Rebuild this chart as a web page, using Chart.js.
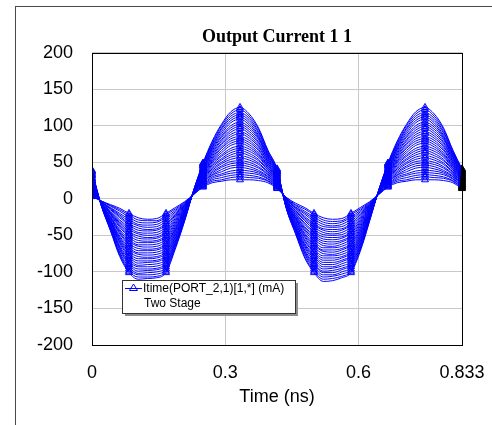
<!DOCTYPE html>
<html><head><meta charset="utf-8">
<script src="https://cdn.jsdelivr.net/npm/chart.js@4"></script>
<style>
html,body{margin:0;padding:0;background:#fff;}
#wrap{position:relative;width:492px;height:425px;overflow:hidden;}
#frame{position:absolute;left:15px;top:6px;width:477px;height:419px;border-left:1px solid #4a4a4a;border-top:1px solid #4a4a4a;box-sizing:border-box;}
canvas{position:absolute;left:0;top:0;}
</style></head><body>
<div id="wrap"><div id="frame"></div><canvas id="c" width="492" height="425"></canvas></div>
<script>
// time samples (ns)
const timeNs = [0,0.0208,0.0417,0.0625,0.0833,0.1041,0.125,0.1458,0.1666,0.1874,0.2083,0.2291,0.2499,0.2707,0.2916,0.3124,0.3332,0.354,0.3749,0.3957,0.4165,0.4373,0.4582,0.479,0.4998,0.5206,0.5415,0.5623,0.5831,0.6039,0.6248,0.6456,0.6664,0.6872,0.7081,0.7289,0.7497,0.7705,0.7914,0.8122,0.833];

// swept output current curves (mA), smallest to largest
const c00 = [3,-3,-8,-13,-20,-26,-28,-27,-20,-12,-4, 6,16,22,24,26,26,26,25,22,14, 2,-6,-12,-20,-26,-28,-27,-20,-12,-4, 6,16,22,24,26,26,26,25,22,14];
const h00 = [4,-3,-9,-15,-22,-29,-30,-30,-22,-14,-5, 6,17,24,26,29,30,29,28,24,15, 2,-8,-14,-22,-29,-31,-30,-22,-14,-5, 6,17,24,26,29,30,29,28,24,15];
const c01 = [5,-3,-10,-17,-25,-32,-33,-32,-25,-16,-6, 6,18,26,29,32,33,32,30,25,16, 1,-9,-17,-25,-32,-34,-32,-25,-16,-6, 6,18,26,29,32,33,32,30,25,16];
const h01 = [7,-4,-12,-20,-28,-35,-36,-35,-28,-18,-7, 7,19,28,32,35,36,35,33,27,17, 1,-11,-19,-28,-35,-37,-35,-28,-18,-7, 7,19,28,32,35,36,35,33,27,17];
const c02 = [8,-4,-13,-22,-31,-37,-39,-38,-31,-20,-8, 7,20,30,34,38,39,38,35,28,18, 0,-12,-21,-31,-38,-39,-38,-31,-20,-8, 7,20,30,34,38,39,38,35,28,18];
const h02 = [9,-4,-14,-24,-34,-40,-42,-41,-34,-22,-9, 7,22,32,37,42,43,41,37,30,19, 0,-13,-24,-34,-41,-42,-41,-34,-22,-9, 7,22,32,37,42,43,41,37,30,19];
const c03 = [10,-4,-15,-26,-36,-43,-44,-43,-36,-23,-9, 7,23,33,40,45,46,44,39,31,19, -1,-14,-26,-36,-43,-45,-43,-36,-24,-9, 7,23,33,40,45,46,44,39,31,19];
const h03 = [12,-5,-17,-29,-39,-46,-47,-46,-39,-25,-10, 8,24,35,43,48,49,47,42,33,20, -2,-16,-28,-39,-46,-48,-46,-39,-26,-10, 8,24,35,43,48,49,47,42,33,20];
const c04 = [13,-5,-18,-31,-42,-48,-50,-49,-42,-27,-11, 8,25,37,45,51,52,50,44,34,21, -2,-17,-30,-42,-49,-50,-49,-42,-28,-11, 8,25,37,45,51,52,50,44,34,21];
const h04 = [14,-5,-19,-33,-45,-51,-53,-52,-45,-29,-12, 8,26,39,48,54,56,53,47,36,22, -3,-19,-33,-45,-52,-53,-52,-45,-30,-12, 8,26,39,48,54,56,53,47,36,22];
const c05 = [15,-5,-20,-35,-47,-54,-55,-54,-47,-31,-13, 8,27,41,50,57,59,56,49,37,23, -3,-20,-35,-47,-55,-56,-54,-47,-32,-13, 8,27,41,50,57,59,56,49,37,23];
const h05 = [16,-5,-21,-37,-50,-57,-58,-57,-50,-33,-14, 8,28,43,53,60,63,59,52,39,24, -4,-22,-38,-50,-58,-59,-57,-50,-34,-14, 8,28,43,53,60,63,59,52,39,24];
const c06 = [17,-5,-22,-39,-52,-60,-60,-59,-52,-35,-15, 8,29,45,55,63,66,62,54,40,25, -4,-23,-40,-52,-61,-62,-59,-52,-36,-15, 8,29,45,55,63,66,62,54,40,25];
const h06 = [19,-6,-24,-42,-55,-63,-63,-62,-55,-37,-16, 9,30,47,58,66,69,65,57,42,26, -5,-25,-42,-55,-64,-65,-62,-55,-38,-16, 9,30,47,58,66,69,65,57,42,26];
const c07 = [20,-6,-25,-44,-58,-65,-66,-65,-58,-39,-17, 9,31,49,60,69,72,68,59,43,27, -5,-26,-44,-58,-67,-67,-65,-58,-40,-17, 9,31,49,60,69,72,68,59,43,27];
const h07 = [21,-6,-26,-46,-61,-68,-69,-68,-61,-41,-18, 9,33,51,63,73,76,71,61,45,28, -6,-27,-47,-61,-70,-70,-68,-61,-42,-18, 9,33,51,63,73,76,71,61,45,28];
const c08 = [22,-6,-27,-48,-63,-71,-71,-70,-63,-42,-18, 9,34,52,66,76,79,74,63,46,28, -6,-28,-49,-63,-72,-73,-70,-63,-44,-18, 9,34,52,66,76,79,74,63,46,28];
const h08 = [24,-7,-29,-51,-66,-74,-74,-73,-66,-44,-19, 10,35,54,69,79,82,77,66,48,29, -7,-30,-51,-66,-75,-76,-73,-66,-46,-19, 10,35,54,69,79,82,77,66,48,29];
const c09 = [25,-7,-30,-53,-69,-76,-77,-76,-69,-46,-20, 10,36,56,71,82,85,80,68,49,30, -7,-31,-53,-69,-78,-78,-76,-69,-48,-20, 10,36,56,71,82,85,80,68,49,30];
const h09 = [26,-7,-31,-55,-72,-79,-80,-79,-72,-48,-21, 10,37,58,74,85,89,83,71,51,31, -8,-33,-56,-72,-81,-81,-79,-72,-50,-21, 10,37,58,74,85,89,83,71,51,31];
const c10 = [27,-7,-32,-57,-74,-82,-82,-81,-74,-50,-22, 10,38,60,76,88,92,86,73,52,32, -8,-34,-58,-74,-84,-84,-81,-74,-52,-22, 10,38,60,76,88,92,86,73,52,32];
const h10 = [28,-7,-33,-59,-77,-85,-85,-84,-77,-52,-23, 10,39,62,79,91,96,89,76,54,33, -9,-36,-61,-77,-87,-87,-84,-77,-54,-23, 10,39,62,79,91,96,89,76,54,33];
const c11 = [29,-7,-34,-61,-79,-88,-87,-86,-79,-54,-24, 10,40,64,81,94,99,92,78,55,34, -9,-37,-63,-79,-90,-90,-86,-79,-56,-24, 10,40,64,81,94,99,92,78,55,34];
const h11 = [31,-8,-36,-64,-82,-91,-90,-89,-82,-56,-25, 11,41,66,84,97,102,95,81,57,35, -10,-39,-65,-82,-93,-93,-89,-82,-58,-25, 11,41,66,84,97,102,95,81,57,35];
const c12 = [32,-8,-37,-66,-85,-93,-93,-92,-85,-58,-26, 11,42,68,86,100,105,98,83,58,36, -10,-40,-67,-85,-96,-95,-92,-85,-60,-26, 11,42,68,86,100,105,98,83,58,36];
const h12 = [33,-8,-38,-68,-88,-96,-96,-95,-88,-60,-27, 11,44,70,89,104,109,101,85,60,37, -11,-41,-70,-88,-99,-98,-95,-88,-62,-27, 11,44,70,89,104,109,101,85,60,37];
const c13 = [34,-8,-39,-70,-90,-99,-98,-97,-90,-61,-27, 11,45,71,92,107,112,104,87,61,37, -11,-42,-72,-90,-101,-101,-97,-90,-64,-27, 11,45,71,92,107,112,104,87,61,37];
const h13 = [36,-9,-41,-73,-93,-102,-101,-100,-93,-63,-28, 12,46,73,95,110,115,107,90,63,38, -12,-44,-74,-93,-104,-104,-100,-93,-66,-28, 12,46,73,95,110,115,107,90,63,38];
const c14 = [37,-9,-42,-75,-96,-104,-104,-103,-96,-65,-29, 12,47,75,97,113,118,110,92,64,39, -12,-45,-76,-96,-107,-106,-103,-96,-68,-29, 12,47,75,97,113,118,110,92,64,39];
const h14 = [38,-9,-43,-77,-99,-107,-107,-106,-99,-67,-30, 12,48,77,100,116,122,113,95,66,40, -13,-47,-79,-99,-110,-109,-106,-99,-70,-30, 12,48,77,100,116,122,113,95,66,40];
const c15 = [39,-9,-44,-79,-101,-110,-109,-108,-101,-69,-31, 12,49,79,102,119,125,116,97,67,41, -13,-48,-81,-101,-113,-112,-108,-101,-72,-31, 12,49,79,102,119,125,116,97,67,41];

const xTicks = [0, 0.3, 0.6, 0.833];
const xTickLabels = ['0', '0.3', '0.6', '0.833'];
const yMin = -200, yMax = 200, yStep = 50;
const chartTitle = 'Output Current 1 1';
const xTitle = 'Time (ns)';
const legendLabel = 'Itime(PORT_2,1)[1,*] (mA)';
const legendSub = 'Two Stage';

const curves = [c00,h00,c01,h01,c02,h02,c03,h03,c04,h04,c05,h05,c06,h06,c07,h07,c08,h08,c09,h09,c10,h10,c11,h11,c12,h12,c13,h13,c14,h14,c15];
const BLUE = '#0000ff';
const SANS = '"Liberation Sans", Arial, sans-serif';

const framePlugin = {
  id: 'plotFrame',
  afterDatasetsDraw(chart) {
    const {ctx, chartArea: a} = chart;
    ctx.save();
    ctx.strokeStyle = '#000';
    ctx.lineWidth = 1;
    ctx.strokeRect(Math.round(a.left) + 0.5, Math.round(a.top) + 0.5,
      Math.round(a.right - a.left), Math.round(a.bottom - a.top));
    ctx.restore();
  }
};

const boxLegend = {
  id: 'boxLegend',
  afterDraw(chart) {
    const ctx = chart.ctx;
    const x = 122, y = 280, w = 173, h = 33;
    ctx.save();
    ctx.fillStyle = '#8c8c8c';
    ctx.fillRect(x + 3, y + 3, w, h);
    ctx.fillStyle = '#fff';
    ctx.fillRect(x, y, w, h);
    ctx.strokeStyle = '#333';
    ctx.lineWidth = 1;
    ctx.strokeRect(x + 0.5, y + 0.5, w, h);
    ctx.strokeStyle = BLUE;
    ctx.beginPath(); ctx.moveTo(125, 288.5); ctx.lineTo(142, 288.5); ctx.stroke();
    ctx.beginPath(); ctx.moveTo(133.5, 284); ctx.lineTo(137.5, 290.5); ctx.lineTo(129.5, 290.5); ctx.closePath(); ctx.stroke();
    ctx.fillStyle = '#000';
    ctx.font = '12px ' + SANS;
    ctx.textBaseline = 'middle';
    ctx.fillText(legendLabel, 143, 289);
    ctx.fillText(legendSub, 144, 304);
    ctx.restore();
  }
};

const lastIdx = timeNs.length - 1;
new Chart(document.getElementById('c'), {
  type: 'line',
  data: {
    datasets: curves.map((vals, k) => ({
      label: 'sweep ' + (k + 1),
      data: timeNs.map((t, i) => ({x: t, y: vals[i]})),
      borderColor: BLUE,
      borderWidth: 1,
      backgroundColor: 'rgba(0,0,0,0)',
      fill: false,
      cubicInterpolationMode: 'monotone',
      pointStyle: 'triangle',
      pointRadius: c => (c.dataIndex % 4 === 0 ? 4 : 0),
      pointHoverRadius: 0,
      pointBorderColor: c => (c.dataIndex === lastIdx ? '#000' : BLUE),
      pointBackgroundColor: c => (c.dataIndex === lastIdx ? '#000' : 'rgba(0,0,0,0)'),
      pointBorderWidth: 1,
      clip: {left: 0, top: 0, right: 10, bottom: 0}
    }))
  },
  options: {
    responsive: false,
    animation: false,
    devicePixelRatio: 1,
    events: [],
    layout: {autoPadding: false, padding: {left: 0, right: 30, top: 0, bottom: 0}},
    plugins: {
      legend: {display: false},
      tooltip: {enabled: false},
      title: {
        display: true, text: chartTitle, fullSize: false, color: '#000',
        font: {family: '"Liberation Serif", "Times New Roman", serif', size: 18, weight: 'bold'},
        padding: {top: 27, bottom: 4}
      }
    },
    scales: {
      x: {
        type: 'linear', min: 0, max: 0.833,
        afterBuildTicks: s => { s.ticks = xTicks.map(v => ({value: v})); },
        afterFit: s => { s.height = 80; s.paddingLeft = 0; s.paddingRight = 0; },
        grid: {color: '#c8c8c8', drawTicks: false, tickLength: 0},
        border: {display: false},
        ticks: {
          padding: 17, color: '#000', maxRotation: 0, autoSkip: false,
          font: {family: SANS, size: 18},
          callback: (v, i) => xTickLabels[i]
        },
        title: {display: true, text: xTitle, color: '#000', font: {family: SANS, size: 18}, padding: {top: 0, bottom: 17}}
      },
      y: {
        min: yMin, max: yMax,
        afterFit: s => { s.width = 92; },
        grid: {color: '#c8c8c8', drawTicks: false, tickLength: 0},
        border: {display: false},
        ticks: {stepSize: yStep, padding: 19, color: '#000', font: {family: SANS, size: 18}}
      }
    }
  },
  plugins: [framePlugin, boxLegend]
});
</script>
</body></html>
